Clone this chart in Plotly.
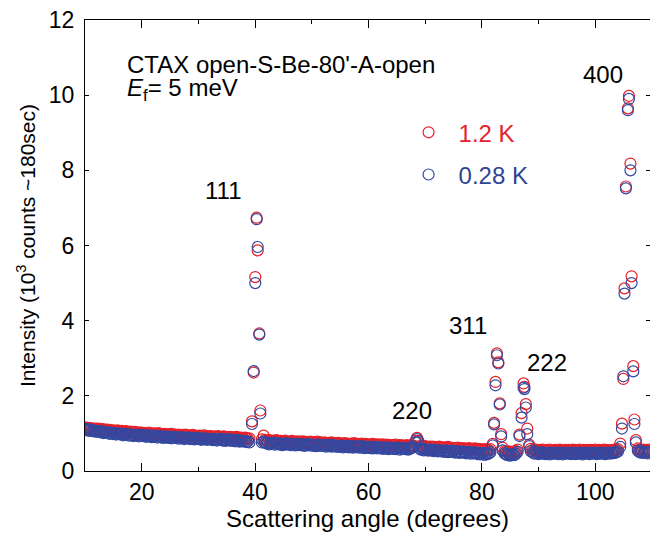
import plotly.graph_objects as go

# ---------------- data ----------------
# Scan angles (degrees), segment by segment
angle_a = [
    10.0, 10.25, 10.5, 10.75, 11.0, 11.25, 11.5, 11.75,
    12.0, 12.25, 12.5, 12.75, 13.0, 13.25, 13.5, 13.75,
    14.0, 14.25, 14.5, 14.75, 15.0, 15.25, 15.5, 15.75,
    16.0, 16.25, 16.5, 16.75, 17.0, 17.25, 17.5, 17.75,
    18.0, 18.25, 18.5, 18.75, 19.0, 19.25, 19.5, 19.75,
    20.0, 20.25, 20.5, 20.75, 21.0, 21.25, 21.5, 21.75,
    22.0, 22.25, 22.5, 22.75, 23.0, 23.25, 23.5, 23.75,
    24.0, 24.25, 24.5, 24.75, 25.0, 25.25, 25.5, 25.75,
    26.0, 26.25, 26.5, 26.75, 27.0, 27.25, 27.5, 27.75,
    28.0, 28.25, 28.5, 28.75, 29.0, 29.25, 29.5, 29.75,
    30.0, 30.25, 30.5, 30.75, 31.0, 31.25, 31.5, 31.75,
    32.0, 32.25, 32.5, 32.75, 33.0, 33.25, 33.5, 33.75,
    34.0, 34.25, 34.5, 34.75, 35.0, 35.25, 35.5, 35.75,
    36.0, 36.25, 36.5, 36.75, 37.0, 37.25, 37.5, 37.75,
    38.0, 38.25, 38.5, 38.75, 39.0,
]
red_a = [
    1.16, 1.14, 1.15, 1.12, 1.14, 1.13, 1.11, 1.13,
    1.11, 1.13, 1.10, 1.12, 1.09, 1.11, 1.10, 1.08,
    1.10, 1.07, 1.09, 1.06, 1.08, 1.07, 1.05, 1.08,
    1.06, 1.04, 1.07, 1.05, 1.03, 1.06, 1.04, 1.02,
    1.05, 1.03, 1.01, 1.04, 1.02, 1.00, 1.03, 1.01,
    1.02, 0.99, 1.01, 1.00, 0.98, 1.02, 0.99, 1.00,
    0.98, 1.00, 0.97, 0.99, 1.01, 0.97, 0.98, 0.96,
    0.99, 0.97, 0.95, 0.98, 0.96, 0.99, 0.95, 0.97,
    0.96, 0.94, 0.97, 0.95, 0.93, 0.96, 0.94, 0.97,
    0.93, 0.95, 0.92, 0.94, 0.96, 0.92, 0.94, 0.93,
    0.92, 0.94, 0.91, 0.93, 0.95, 0.91, 0.93, 0.92,
    0.90, 0.93, 0.91, 0.89, 0.92, 0.90, 0.93, 0.91,
    0.89, 0.91, 0.92, 0.88, 0.90, 0.89, 0.91, 0.88,
    0.90, 0.87, 0.89, 0.91, 0.88, 0.86, 0.89, 0.88,
    0.86, 0.89, 0.87, 0.85, 0.87,
]
blue_a = [
    1.12, 1.09, 1.11, 1.07, 1.10, 1.06, 1.08, 1.05,
    1.07, 1.04, 1.06, 1.03, 1.05, 1.01, 1.04, 1.02,
    1.03, 0.99, 1.02, 1.00, 0.98, 1.01, 0.97, 0.99,
    1.00, 0.97, 0.99, 0.95, 0.98, 0.96, 0.99, 0.94,
    0.97, 0.95, 0.93, 0.96, 0.94, 0.97, 0.92, 0.95,
    0.96, 0.93, 0.95, 0.91, 0.94, 0.92, 0.95, 0.90,
    0.93, 0.91, 0.94, 0.89, 0.92, 0.90, 0.93, 0.88,
    0.91, 0.89, 0.92, 0.88, 0.90, 0.87, 0.91, 0.89,
    0.88, 0.90, 0.86, 0.89, 0.87, 0.90, 0.85, 0.88,
    0.87, 0.89, 0.85, 0.88, 0.86, 0.84, 0.87, 0.85,
    0.88, 0.85, 0.83, 0.86, 0.84, 0.87, 0.83, 0.85,
    0.84, 0.86, 0.82, 0.85, 0.83, 0.81, 0.84, 0.86,
    0.83, 0.81, 0.84, 0.80, 0.82, 0.85, 0.81, 0.83,
    0.80, 0.82, 0.79, 0.83, 0.80, 0.78, 0.81, 0.79,
    0.80, 0.78, 0.77, 0.79, 0.76,
]

# (111) reflection
angle_111 = [39.45, 39.75, 40.03, 40.28, 40.46, 40.74, 40.92]
red_111 = [1.32, 2.62, 5.16, 6.74, 5.87, 3.66, 1.61]
blue_111 = [1.25, 2.66, 5.00, 6.70, 5.96, 3.63, 1.53]

angle_b = [
    41.2, 41.5, 41.75,
    42.0, 42.25, 42.5, 42.75, 43.0, 43.25, 43.5, 43.75,
    44.0, 44.25, 44.5, 44.75, 45.0, 45.25, 45.5, 45.75,
    46.0, 46.25, 46.5, 46.75, 47.0, 47.25, 47.5, 47.75,
    48.0, 48.25, 48.5, 48.75, 49.0, 49.25, 49.5, 49.75,
    50.0, 50.25, 50.5, 50.75, 51.0, 51.25, 51.5, 51.75,
    52.0, 52.25, 52.5, 52.75, 53.0, 53.25, 53.5, 53.75,
    54.0, 54.25, 54.5, 54.75, 55.0, 55.25, 55.5, 55.75,
    56.0, 56.25, 56.5, 56.75, 57.0, 57.25, 57.5, 57.75,
    58.0, 58.25, 58.5, 58.75, 59.0, 59.25, 59.5, 59.75,
    60.0, 60.25, 60.5, 60.75, 61.0, 61.25, 61.5, 61.75,
    62.0, 62.25, 62.5, 62.75, 63.0, 63.25, 63.5, 63.75,
    64.0, 64.25, 64.5, 64.75, 65.0, 65.25, 65.5, 65.75,
    66.0, 66.25, 66.5, 66.75, 67.0, 67.25, 67.5, 67.75,
    68.0,
]
red_b = [
    0.84, 0.94, 0.83,
    0.81, 0.79, 0.82, 0.80, 0.78, 0.81, 0.79, 0.82,
    0.80, 0.78, 0.80, 0.77, 0.79, 0.81, 0.78, 0.76,
    0.79, 0.77, 0.80, 0.76, 0.78, 0.77, 0.79, 0.75,
    0.77, 0.79, 0.76, 0.78, 0.75, 0.77, 0.76, 0.78,
    0.75, 0.77, 0.74, 0.76, 0.78, 0.74, 0.76, 0.75,
    0.73, 0.76, 0.74, 0.72, 0.75, 0.73, 0.76, 0.74,
    0.72, 0.74, 0.73, 0.75, 0.71, 0.73, 0.72, 0.74,
    0.71, 0.73, 0.72, 0.70, 0.73, 0.71, 0.74, 0.70,
    0.72, 0.70, 0.71, 0.73, 0.69, 0.71, 0.72, 0.70,
    0.69, 0.71, 0.70, 0.72, 0.68, 0.70, 0.71, 0.69,
    0.70, 0.68, 0.71, 0.69, 0.67, 0.70, 0.68, 0.69,
    0.67, 0.69, 0.68, 0.70, 0.66, 0.68, 0.69, 0.67,
    0.68, 0.66, 0.67, 0.69, 0.65, 0.67, 0.68, 0.66,
    0.67,
]
blue_b = [
    0.76, 0.78, 0.75,
    0.73, 0.75, 0.71, 0.74, 0.72, 0.76, 0.70, 0.73,
    0.74, 0.71, 0.73, 0.69, 0.72, 0.70, 0.74, 0.71,
    0.72, 0.69, 0.71, 0.73, 0.68, 0.71, 0.69, 0.72,
    0.70, 0.68, 0.71, 0.67, 0.70, 0.72, 0.68, 0.69,
    0.70, 0.67, 0.69, 0.66, 0.68, 0.71, 0.67, 0.69,
    0.67, 0.69, 0.65, 0.68, 0.66, 0.70, 0.65, 0.67,
    0.68, 0.65, 0.67, 0.64, 0.66, 0.68, 0.63, 0.66,
    0.65, 0.67, 0.63, 0.66, 0.64, 0.62, 0.65, 0.67,
    0.63, 0.65, 0.62, 0.64, 0.66, 0.61, 0.64, 0.62,
    0.64, 0.61, 0.63, 0.60, 0.62, 0.65, 0.60, 0.62,
    0.61, 0.63, 0.59, 0.62, 0.60, 0.63, 0.58, 0.61,
    0.62, 0.59, 0.61, 0.58, 0.60, 0.62, 0.57, 0.60,
    0.59, 0.61, 0.58, 0.60, 0.57, 0.59, 0.61, 0.62,
    0.64,
]

# (220) reflection
angle_220 = [68.3, 68.55, 68.8]
red_220 = [0.80, 0.88, 0.80]
blue_220 = [0.76, 0.85, 0.77]

angle_c = [
    69.0, 69.25, 69.5, 69.75, 70.0, 70.25, 70.5, 70.75,
    71.0, 71.25, 71.5, 71.75, 72.0, 72.25, 72.5, 72.75,
    73.0, 73.25, 73.5, 73.75, 74.0, 74.25, 74.5, 74.75,
    75.0, 75.25, 75.5, 75.75, 76.0, 76.25, 76.5, 76.75,
    77.0, 77.25, 77.5, 77.75, 78.0, 78.25, 78.5, 78.75,
    79.0, 79.25, 79.5, 79.75, 80.0, 80.25, 80.5, 80.75,
    81.0, 81.25, 81.5,
]
red_c = [
    0.66, 0.64, 0.65, 0.63, 0.66, 0.64, 0.62, 0.65,
    0.63, 0.65, 0.62, 0.64, 0.61, 0.63, 0.65, 0.62,
    0.61, 0.63, 0.60, 0.62, 0.64, 0.60, 0.62, 0.61,
    0.59, 0.61, 0.60, 0.62, 0.58, 0.60, 0.61, 0.59,
    0.60, 0.58, 0.59, 0.61, 0.57, 0.59, 0.58, 0.60,
    0.57, 0.59, 0.56, 0.58, 0.57, 0.55, 0.58, 0.56,
    0.57, 0.55, 0.58,
]
blue_c = [
    0.60, 0.57, 0.59, 0.55, 0.58, 0.56, 0.54, 0.57,
    0.55, 0.57, 0.53, 0.56, 0.54, 0.52, 0.55, 0.53,
    0.54, 0.51, 0.53, 0.55, 0.50, 0.53, 0.51, 0.54,
    0.52, 0.49, 0.51, 0.53, 0.48, 0.51, 0.49, 0.52,
    0.50, 0.47, 0.49, 0.51, 0.46, 0.49, 0.47, 0.50,
    0.48, 0.45, 0.47, 0.44, 0.48, 0.46, 0.43, 0.47,
    0.45, 0.47, 0.50,
]

# (311) reflection
angle_311 = [81.9, 82.15, 82.4, 82.65, 82.9, 83.15, 83.4, 83.65]
red_311 = [0.72, 1.28, 2.37, 3.13, 2.89, 1.80, 0.98, 0.62]
blue_311 = [0.68, 1.24, 2.28, 3.08, 2.86, 1.77, 0.92, 0.55]

angle_d = [84.0, 84.25, 84.5, 84.75, 85.0, 85.25, 85.5, 85.75, 86.0, 86.3]
red_d = [0.53, 0.51, 0.50, 0.52, 0.49, 0.51, 0.50, 0.52, 0.53, 0.57]
blue_d = [0.47, 0.44, 0.42, 0.45, 0.41, 0.43, 0.44, 0.42, 0.46, 0.51]

# (222) reflection
angle_222 = [86.63, 87.0, 87.35, 87.5, 87.75, 88.0, 88.35]
red_222 = [0.97, 1.54, 2.33, 2.24, 1.78, 1.13, 0.70]
blue_222 = [0.93, 1.42, 2.22, 2.18, 1.69, 0.98, 0.66]

angle_e = [
    88.6,
    89.0, 89.25, 89.5, 89.75, 90.0, 90.25, 90.5, 90.75,
    91.0, 91.25, 91.5, 91.75, 92.0, 92.25, 92.5, 92.75,
    93.0, 93.25, 93.5, 93.75, 94.0, 94.25, 94.5, 94.75,
    95.0, 95.25, 95.5, 95.75, 96.0, 96.25, 96.5, 96.75,
    97.0, 97.25, 97.5, 97.75, 98.0, 98.25, 98.5, 98.75,
    99.0, 99.25, 99.5, 99.75, 100.0, 100.25, 100.5, 100.75,
    101.0, 101.25, 101.5, 101.75, 102.0, 102.25, 102.5, 102.75,
    103.0, 103.25, 103.5, 103.75, 104.0,
]
red_e = [
    0.59,
    0.56, 0.54, 0.57, 0.55, 0.53, 0.56, 0.54, 0.57,
    0.55, 0.53, 0.56, 0.54, 0.57, 0.53, 0.55, 0.54,
    0.56, 0.53, 0.55, 0.57, 0.54, 0.52, 0.55, 0.56,
    0.54, 0.56, 0.53, 0.55, 0.57, 0.54, 0.56, 0.53,
    0.55, 0.57, 0.54, 0.53, 0.56, 0.55, 0.53, 0.56,
    0.54, 0.56, 0.55, 0.53, 0.57, 0.54, 0.55, 0.56,
    0.53, 0.55, 0.57, 0.54, 0.56, 0.53, 0.55, 0.54,
    0.56, 0.55, 0.57, 0.56, 0.58,
]
blue_e = [
    0.53,
    0.49, 0.46, 0.50, 0.47, 0.45, 0.48, 0.50, 0.46,
    0.48, 0.45, 0.49, 0.47, 0.44, 0.48, 0.46, 0.49,
    0.46, 0.48, 0.45, 0.49, 0.47, 0.44, 0.48, 0.46,
    0.49, 0.46, 0.48, 0.45, 0.47, 0.49, 0.45, 0.48,
    0.46, 0.49, 0.47, 0.44, 0.48, 0.46, 0.49, 0.47,
    0.45, 0.48, 0.46, 0.49, 0.47, 0.45, 0.48, 0.46,
    0.49, 0.46, 0.48, 0.45, 0.47, 0.49, 0.46, 0.48,
    0.47, 0.49, 0.48, 0.50, 0.52,
]

# (400) reflection
angle_400 = [104.4, 104.7, 104.95, 105.15, 105.4, 105.75, 105.93, 106.2, 106.4, 106.7, 106.9, 107.15]
red_400 = [0.73, 1.26, 2.45, 4.86, 7.57, 9.65, 9.98, 8.18, 5.18, 2.79, 1.37, 0.82]
blue_400 = [0.64, 1.13, 2.52, 4.72, 7.52, 9.60, 9.90, 8.00, 5.00, 2.65, 1.25, 0.76]

angle_f = [107.5, 107.75, 108.0, 108.25, 108.5, 108.75, 109.0, 109.25, 109.5]
red_f = [0.60, 0.57, 0.56, 0.54, 0.57, 0.55, 0.56, 0.54, 0.57]
blue_f = [0.54, 0.51, 0.49, 0.52, 0.48, 0.50, 0.51, 0.47, 0.50]

# Bragg peak labels: text, angle, intensity position
peak_labels = ["111", "220", "311", "222", "400"]
peak_label_x = [34.4, 67.6, 77.6, 91.4, 101.4]
peak_label_y = [7.47, 1.62, 3.88, 2.90, 10.54]

# axis ticks
x_major = [20, 40, 60, 80, 100]
x_minor = [30, 50, 70, 90]
y_labels = [0, 2, 4, 6, 8, 10, 12]
y_long = [4, 8]

# ---------------- assemble ----------------
angle = (angle_a + angle_111 + angle_b + angle_220 + angle_c + angle_311
         + angle_d + angle_222 + angle_e + angle_400 + angle_f)
int_1p2K = (red_a + red_111 + red_b + red_220 + red_c + red_311
            + red_d + red_222 + red_e + red_400 + red_f)
int_0p28K = (blue_a + blue_111 + blue_b + blue_220 + blue_c + blue_311
             + blue_d + blue_222 + blue_e + blue_400 + blue_f)
n = min(len(angle), len(int_1p2K), len(int_0p28K))

RED = "rgb(230,32,40)"
BLUE = "rgb(52,72,160)"
FONT = "Liberation Sans, Arial, Helvetica, sans-serif"
FS = 24
TFS = 23

fig = go.Figure()
fig.add_trace(go.Scatter(
    x=angle[:n], y=int_1p2K[:n], mode="markers",
    name='<span style="color:rgb(226,35,45)">1.2 K</span>',
    legendgroup="a",
    marker=dict(symbol="circle-open", size=11, color=RED, line=dict(width=1.2, color=RED)),
))
fig.add_trace(go.Scatter(
    x=angle[:n], y=int_0p28K[:n], mode="markers",
    name='<span style="color:rgb(48,68,150)">0.28 K</span>',
    legendgroup="b",
    marker=dict(symbol="circle-open", size=11, color=BLUE, line=dict(width=1.2, color=BLUE)),
))

for t, xx, yy in zip(peak_labels, peak_label_x, peak_label_y):
    fig.add_annotation(x=xx, y=yy, text=t, showarrow=False,
                       font=dict(size=FS, color="black", family=FONT),
                       xanchor="center", yanchor="middle")

fig.add_annotation(xref="paper", yref="paper", x=0.0708, y=0.9024,
                   text="CTAX open-S-Be-80'-A-open", showarrow=False,
                   xanchor="left", yanchor="middle",
                   font=dict(size=FS, color="black", family=FONT))
fig.add_annotation(xref="paper", yref="paper", x=0.0708, y=0.845,
                   text="<i>E</i><sub>f</sub>= 5 meV", showarrow=False,
                   xanchor="left", yanchor="middle",
                   font=dict(size=FS, color="black", family=FONT))

axis_common = dict(
    showline=True, linecolor="black", linewidth=1, mirror="allticks",
    ticks="inside", tickcolor="black", tickwidth=1,
    showgrid=False, zeroline=False,
    tickfont=dict(size=TFS, color="black", family=FONT),
)

fig.update_layout(
    width=650, height=533,
    margin=dict(l=85, r=0, t=20, b=62),
    paper_bgcolor="white", plot_bgcolor="white",
    font=dict(family=FONT, size=FS, color="black"),
    showlegend=True,
    legend=dict(x=0.555, y=0.80, xanchor="left", yanchor="top",
                bgcolor="rgba(0,0,0,0)", font=dict(size=FS, family=FONT),
                itemwidth=50, tracegroupgap=8),
    xaxis=dict(range=[10, 109.65], tickvals=x_major, ticklen=8,
               minor=dict(tickvals=x_minor, ticklen=4, ticks="inside", tickcolor="black"),
               title=dict(text="Scattering angle (degrees)", standoff=4,
                          font=dict(size=FS, family=FONT)),
               **axis_common),
    yaxis=dict(range=[0, 12], tickvals=y_labels, ticklen=4,
               ticklabelstandoff=5,
               title=dict(text="Intensity (10<sup>3</sup> counts ~180sec)", standoff=7,
                          font=dict(size=21, family=FONT)),
               **axis_common),
    yaxis2=dict(range=[0, 12], overlaying="y", side="left", anchor="x",
                tickvals=y_long, ticklen=8, ticks="inside", tickcolor="black",
                tickwidth=1, showticklabels=False, showline=False,
                mirror="allticks", showgrid=False, zeroline=False),
)

fig.write_html("out.html")
